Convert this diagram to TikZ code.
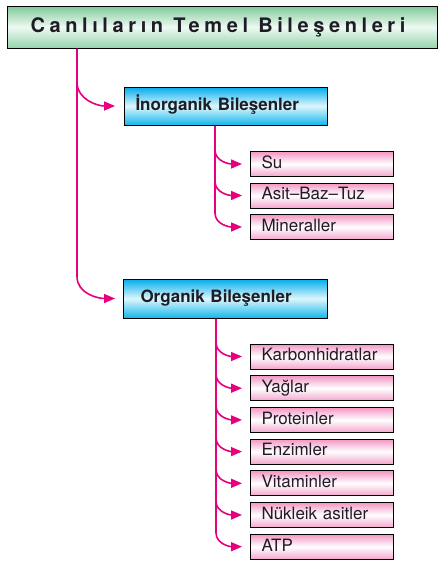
\documentclass[tikz,border=0pt]{standalone}
\usepackage{fontspec}
\setmainfont{TeX Gyre Heros}
\newfontfamily\titlefont[LetterSpace=23]{TeX Gyre Heros}
\usetikzlibrary{arrows.meta}
\definecolor{lnk}{RGB}{230,0,126}
\definecolor{txt}{RGB}{30,28,36}
\definecolor{grT}{RGB}{128,200,152}
\definecolor{grB}{RGB}{150,212,172}
\definecolor{grM}{RGB}{238,250,242}
\definecolor{cyT}{RGB}{0,172,236}
\definecolor{cyB}{RGB}{20,182,236}
\definecolor{cyM}{RGB}{222,246,253}
\definecolor{pkT}{RGB}{242,150,195}
\definecolor{pkB}{RGB}{244,165,205}
\begin{document}
\begin{tikzpicture}[x=1pt,y=-1pt,
  conn/.style={draw=lnk,line width=1.6pt,-{Triangle[length=11pt,width=9pt]}},
  box/.style={draw=black,line width=1pt,anchor=west,align=left,text=txt,
    text height=12.2pt,text depth=3.5pt,font=\fontsize{17}{20}\selectfont},
  pinkbox/.style={box,minimum height=25pt,inner xsep=11pt,inner ysep=0pt,text width=121pt,
    top color=pkT,bottom color=pkB,middle color=white},
  bluebox/.style={box,font=\fontsize{17}{20}\selectfont\bfseries,inner ysep=0pt,
    top color=cyT,bottom color=cyB,middle color=cyM},
  titlebox/.style={draw=black,line width=1pt,minimum width=430pt,minimum height=42pt,inner sep=0pt,
    top color=grT,bottom color=grB,middle color=grM,text=txt,
    font=\titlefont\bfseries\fontsize{20}{22}\selectfont}
]
\useasboundingbox (0,0) rectangle (441,565);

\node[titlebox] (title) at (222,27) {Canlıların Temel Bileşenleri\kern8pt};

\node[bluebox,minimum height=38pt,inner xsep=11pt,text width=181pt] (inorg) at (124,106) {İnorganik Bileşenler};
\node[bluebox,minimum height=39pt,inner xsep=17pt,text width=170pt] (org) at (123,298.5) {Organik Bileşenler};

\node[pinkbox] (su) at (250,164) {Su};
\node[pinkbox] (abt) at (250,195.5) {Asit--Baz--Tuz};
\node[pinkbox] (min) at (250,227) {Mineraller};

\node[pinkbox] (karb) at (250,356.5) {Karbonhidratlar};
\node[pinkbox] (yag) at (250,388.2) {Yağlar};
\node[pinkbox] (prot) at (250,419.9) {Proteinler};
\node[pinkbox] (enz) at (250,451.6) {Enzimler};
\node[pinkbox] (vit) at (250,483.3) {Vitaminler};
\node[pinkbox] (nuk) at (250,515) {Nükleik asitler};
\node[pinkbox] (atp) at (250,546.7) {ATP};

\coordinate (tx) at (77,0);
\coordinate (sx) at (215,0);
\coordinate (ox) at (216,0);

% main trunk
\draw[conn] (title.south -| tx) -- ([yshift=22pt]org.west -| tx) to[out=-90,in=180] ([xshift=-8pt]org.west);
\draw[conn] ([yshift=24pt]inorg.west -| tx) to[out=-90,in=180] ([xshift=-9pt]inorg.west);

% inorganik branch
\draw[conn] (inorg.south -| sx) -- ([yshift=14pt]min.west -| sx) to[out=-90,in=180] ([xshift=-8pt]min.west);
\foreach \n in {su,abt}
  \draw[conn] ([yshift=14pt]\n.west -| sx) to[out=-90,in=180] ([xshift=-8pt]\n.west);

% organik branch
\draw[conn] (org.south -| ox) -- ([yshift=14pt]atp.west -| ox) to[out=-90,in=180] ([xshift=-8pt]atp.west);
\foreach \n in {karb,yag,prot,enz,vit,nuk}
  \draw[conn] ([yshift=14pt]\n.west -| ox) to[out=-90,in=180] ([xshift=-8pt]\n.west);
\end{tikzpicture}
\end{document}
